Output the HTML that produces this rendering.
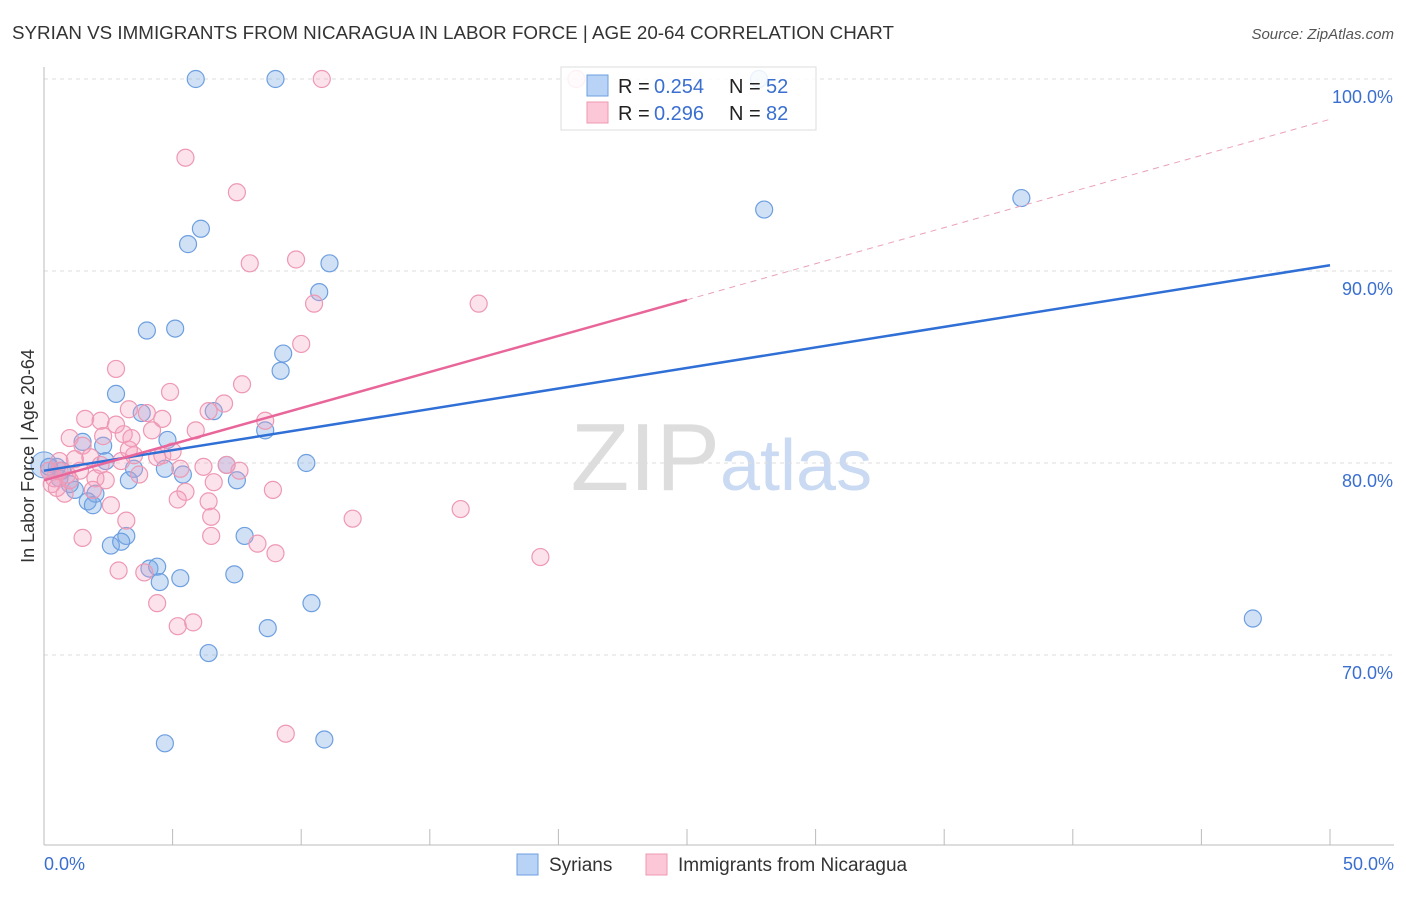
<!DOCTYPE html>
<html><head><meta charset="utf-8"><style>
body{margin:0;background:#fff;font-family:"Liberation Sans",sans-serif}
svg text{font-family:"Liberation Sans",sans-serif}
</style></head><body>
<svg id="chart" width="1406" height="892" xmlns="http://www.w3.org/2000/svg">
<text x="12" y="39" font-size="18" fill="#333" textLength="882" lengthAdjust="spacingAndGlyphs">SYRIAN VS IMMIGRANTS FROM NICARAGUA IN LABOR FORCE | AGE 20-64 CORRELATION CHART</text>
<text x="1394" y="39" font-size="15" fill="#555" text-anchor="end" font-style="italic">Source: ZipAtlas.com</text>
<text x="720" y="490" font-size="96" fill="#ddd" text-anchor="end" font-family="Liberation Serif">ZIP</text>
<text x="720" y="490" font-size="72" fill="#c9daf2">atlas</text>
<g id="grid"></g><g id="axes"></g><g id="pts"></g><g id="trend"></g>
<text transform="translate(34,456) rotate(-90)" font-size="18" fill="#333" text-anchor="middle">In Labor Force | Age 20-64</text>
<g>
<rect x="561" y="67" width="255" height="63" fill="#fff" fill-opacity="0.85" stroke="#ddd"/>
<rect x="587" y="75" width="21" height="21" fill="#b8d3f5" stroke="#6d9fe0"/>
<rect x="587" y="102" width="21" height="21" fill="#fcc8d8" stroke="#ee98b3"/>
<text x="618" y="93" font-size="20" fill="#222">R =</text>
<text x="654" y="93" font-size="20" fill="#3a6fd0">0.254</text>
<text x="729" y="93" font-size="20" fill="#222">N =</text>
<text x="766" y="93" font-size="20" fill="#3a6fd0">52</text>
<text x="618" y="120" font-size="20" fill="#222">R =</text>
<text x="654" y="120" font-size="20" fill="#3a6fd0">0.296</text>
<text x="729" y="120" font-size="20" fill="#222">N =</text>
<text x="766" y="120" font-size="20" fill="#3a6fd0">82</text>
</g>
<g>
<rect x="517" y="854" width="21" height="21" fill="#b8d3f5" stroke="#6d9fe0"/>
<text x="549" y="871" font-size="19" fill="#333">Syrians</text>
<rect x="646" y="854" width="21" height="21" fill="#fcc8d8" stroke="#ee98b3"/>
<text x="678" y="871" font-size="19" fill="#333">Immigrants from Nicaragua</text>
</g>
</svg>
<script>
const yTicks=[100,90,80,70];
const yTickLabels=["100.0%","90.0%","80.0%","70.0%"];
const xTickLabels=["0.0%","50.0%"];
const blueX=[5.9,9.0,27.8,28.0,38.0,6.1,5.6,11.1,10.7,4.0,5.1,9.3,9.2,2.8,3.8,6.6,8.6,4.8,1.5,2.3,2.4,0.5,0.7,3.5,4.7,10.2,7.1,5.4,7.5,3.3,1.2,2.0,1.7,1.9,7.8,3.2,2.6,3.0,4.1,4.4,4.5,5.3,7.4,10.4,8.7,6.4,4.7,10.9,47.0,0.2,0.6,1.0];
const blueY=[100,100,100,93.2,93.8,92.2,91.4,90.4,88.9,86.9,87.0,85.7,84.8,83.6,82.6,82.7,81.7,81.2,81.1,80.9,80.1,79.8,79.6,79.7,79.7,80.0,79.9,79.4,79.1,79.1,78.6,78.4,78.0,77.8,76.2,76.2,75.7,75.9,74.5,74.6,73.8,74.0,74.2,72.7,71.4,70.1,65.4,65.6,71.9,79.8,79.2,78.9];
const pinkX=[20.7,10.8,5.5,7.5,8.0,9.8,10.5,16.9,10.0,2.8,7.7,4.9,7.0,6.4,3.3,4.0,4.6,8.6,1.6,2.2,2.8,3.1,3.4,1.0,1.5,2.3,5.9,4.2,4.6,3.5,4.4,5.0,1.8,1.2,0.6,5.3,6.2,7.1,3.7,2.4,2.0,6.6,8.9,5.5,5.2,6.4,0.8,2.6,6.5,3.2,12.0,16.2,1.5,6.5,8.3,9.0,19.3,2.9,3.9,4.4,5.2,5.8,9.4,0.3,0.4,0.2,0.9,1.4,0.5,1.0,1.9,3.0,3.3,2.2,7.6,0.6];
const pinkY=[100,100,95.9,94.1,90.4,90.6,88.3,88.3,86.2,84.9,84.1,83.7,83.1,82.7,82.8,82.6,82.3,82.2,82.3,82.2,82.0,81.5,81.3,81.3,80.9,81.4,81.7,81.7,80.4,80.4,80.3,80.6,80.3,80.2,80.1,79.7,79.8,79.9,79.4,79.1,79.2,79.0,78.6,78.5,78.1,78.0,78.4,77.8,77.2,77.0,77.1,77.6,76.1,76.2,75.8,75.3,75.1,74.4,74.3,72.7,71.5,71.7,65.9,78.9,79.2,79.6,79.4,79.6,78.7,79.1,78.6,80.1,80.7,79.9,79.6,79.6];
const blueTrend=[79.6,90.3];
const pinkTrend=[79.1,97.9];
const NS="http://www.w3.org/2000/svg";
const X=v=>44+v/50*1286, Y=v=>79+(100-v)*19.2;
function mk(t,a,p){const e=document.createElementNS(NS,t);for(const k in a)e.setAttribute(k,a[k]);document.getElementById(p).appendChild(e);return e;}
yTicks.forEach((t,i)=>{
 const l=mk('line',{x1:44,x2:1394,y1:Y(t),y2:Y(t),stroke:'#ddd','stroke-dasharray':'4,4'},'grid');
 
 
 const tx=mk('text',{x:1393,y:Y(t)+24,'font-size':18,fill:'#3a6fd0','text-anchor':'end'},'axes');
 tx.textContent=yTickLabels[i];
 
 
});
const ax=mk('line',{x1:44,x2:44,y1:67,y2:845,stroke:'#bbb'},'axes');


const bx=mk('line',{x1:44,x2:1394,y1:845,y2:845,stroke:'#bbb'},'axes');


for(let i=0;i<=10;i++){const t=mk('line',{x1:X(i*5),x2:X(i*5),y1:829,y2:845,stroke:'#bbb'},'axes');
 
 }
[[0,'start',44],[50,'end',1394]].forEach((d,i)=>{const t=mk('text',{x:d[2],y:870,'font-size':18,fill:'#3a6fd0','text-anchor':d[1]},'axes');t.textContent=xTickLabels[i];
 
 });
const bb=mk('circle',{cx:X(0),cy:Y(79.9),r:13,fill:'rgba(120,170,230,0.35)',stroke:'#6d9fe0'},'pts');


blueX.forEach((x,i)=>{const c=mk('circle',{cx:X(x),cy:Y(blueY[i]),r:8.5,fill:'rgba(120,170,230,0.35)',stroke:'#6d9fe0','stroke-width':1.2},'pts');
 
 });
pinkX.forEach((x,i)=>{const c=mk('circle',{cx:X(x),cy:Y(pinkY[i]),r:8.5,fill:'rgba(245,160,190,0.3)',stroke:'#ee98b3','stroke-width':1.2},'pts');
 
 });
const bl=mk('line',{x1:X(0),y1:Y(blueTrend[0]),x2:X(50),y2:Y(blueTrend[1]),stroke:'#2f6fd6','stroke-width':2.5},'trend');


const pm=(pinkTrend[0]+pinkTrend[1])/2;
const pl=mk('line',{x1:X(0),y1:Y(pinkTrend[0]),x2:X(25),y2:Y(pm),stroke:'#e8669a','stroke-width':2.5},'trend');


const pd=mk('line',{x1:X(25),y1:Y(pm),x2:X(50),y2:Y(pinkTrend[1]),stroke:'#eaa0bb','stroke-width':1,'stroke-dasharray':'6,5'},'trend');


</script>
</body></html>
